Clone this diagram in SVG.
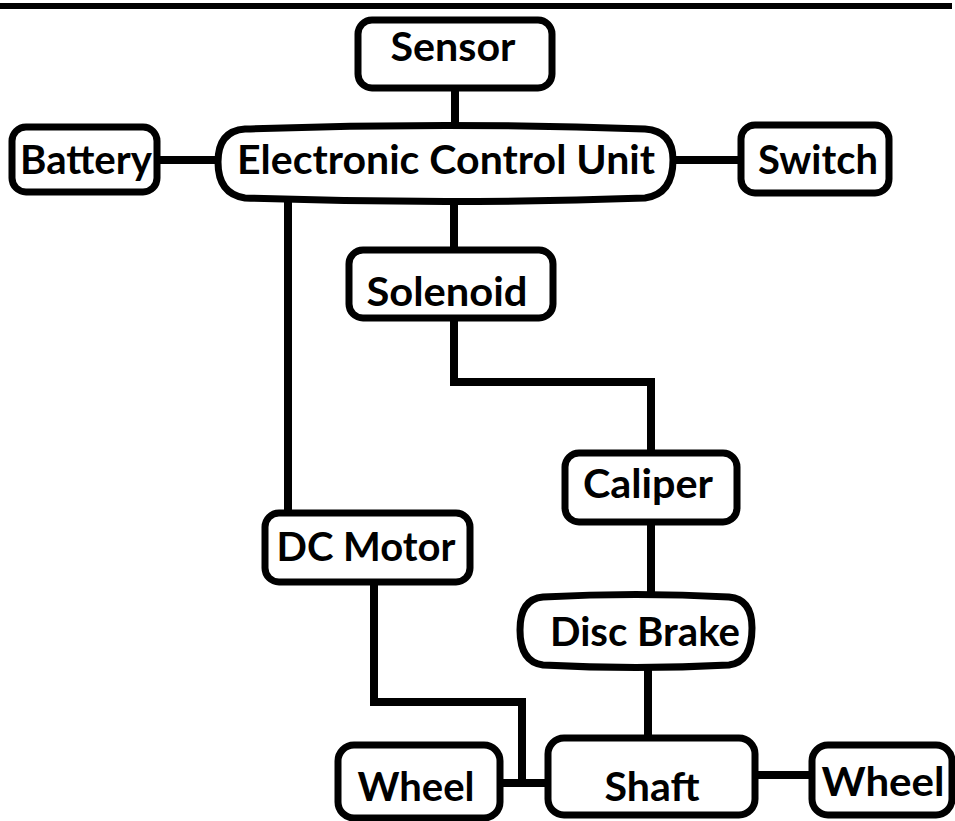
<svg xmlns="http://www.w3.org/2000/svg" width="955" height="821" viewBox="0 0 955 821">
<style>
.box{fill:#fff;stroke:#000;stroke-width:7}
.ln{fill:none;stroke:#000;stroke-width:8;stroke-linejoin:miter;stroke-linecap:butt}
.t{font-family:Lato,"Open Sans","Liberation Sans",sans-serif;font-weight:bold;font-size:40px;fill:#000}
</style>
<rect x="0" y="0" width="955" height="821" fill="#fff"/>
<line x1="0" y1="6" x2="952" y2="6" stroke="#000" stroke-width="6"/>
<g id="connectors">
<line class="ln" x1="455" y1="86" x2="455" y2="128"/>
<line class="ln" x1="155" y1="160" x2="220" y2="160"/>
<line class="ln" x1="671" y1="160" x2="743" y2="160"/>
<line class="ln" x1="288" y1="198" x2="288" y2="515"/>
<line class="ln" x1="454" y1="198" x2="454" y2="252"/>
<polyline class="ln" points="454,316 454,382 651,382 651,455"/>
<line class="ln" x1="651" y1="520" x2="651" y2="597"/>
<line class="ln" x1="648" y1="665" x2="648" y2="740"/>
<polyline class="ln" points="374,580 374,702 522,702 522,783"/>
<line class="ln" x1="498" y1="783" x2="550" y2="783"/>
<line class="ln" x1="753" y1="775" x2="814" y2="775"/>
</g>
<g id="sensor"><rect class="box" x="358" y="20" width="194" height="68" rx="14"/><text class="t" x="453" y="61" text-anchor="middle" textLength="125" lengthAdjust="spacingAndGlyphs">Sensor</text></g>
<g id="ecu"><path class="box" d="M245,129 Q446,122 645,129 Q673,131 673,160 Q673,194 645,198 Q446,205 245,198 Q218,194 218,162 Q218,131 245,129 Z"/><text class="t" x="446" y="174" text-anchor="middle" textLength="418" lengthAdjust="spacingAndGlyphs">Electronic Control Unit</text></g>
<g id="battery"><rect class="box" x="12" y="127" width="145" height="65" rx="14"/><text class="t" x="86" y="174" text-anchor="middle" textLength="132" lengthAdjust="spacingAndGlyphs">Battery</text></g>
<g id="switch"><rect class="box" x="741" y="125" width="148" height="68" rx="14"/><text class="t" x="818" y="174" text-anchor="middle" textLength="120" lengthAdjust="spacingAndGlyphs">Switch</text></g>
<g id="solenoid"><rect class="box" x="349" y="250" width="204" height="68" rx="14"/><text class="t" x="447" y="306" text-anchor="middle" textLength="161" lengthAdjust="spacingAndGlyphs">Solenoid</text></g>
<g id="caliper"><rect class="box" x="565" y="453" width="172" height="69" rx="14"/><text class="t" x="648" y="498" text-anchor="middle" textLength="130" lengthAdjust="spacingAndGlyphs">Caliper</text></g>
<g id="dcmotor"><rect class="box" x="265" y="513" width="205" height="69" rx="14"/><text class="t" x="366" y="561" text-anchor="middle" textLength="179" lengthAdjust="spacingAndGlyphs">DC Motor</text></g>
<g id="discbrake"><path class="box" d="M543,597 Q636,592 729,597 Q752,599 752,628 Q752,662 729,665 Q636,670 543,665 Q520,662 520,630 Q520,599 543,597 Z"/><text class="t" x="645" y="646" text-anchor="middle" textLength="190" lengthAdjust="spacingAndGlyphs">Disc Brake</text></g>
<g id="shaft"><rect class="box" x="548" y="738" width="207" height="77" rx="16"/><text class="t" x="652" y="801" text-anchor="middle" textLength="95" lengthAdjust="spacingAndGlyphs">Shaft</text></g>
<g id="wheel-left"><rect class="box" x="338" y="745" width="162" height="73" rx="16"/><text class="t" x="416" y="801" text-anchor="middle" textLength="117" lengthAdjust="spacingAndGlyphs">Wheel</text></g>
<g id="wheel-right"><rect class="box" x="812" y="745" width="140" height="70" rx="16"/><text class="t" x="883" y="796" text-anchor="middle" textLength="123" lengthAdjust="spacingAndGlyphs">Wheel</text></g>
</svg>
